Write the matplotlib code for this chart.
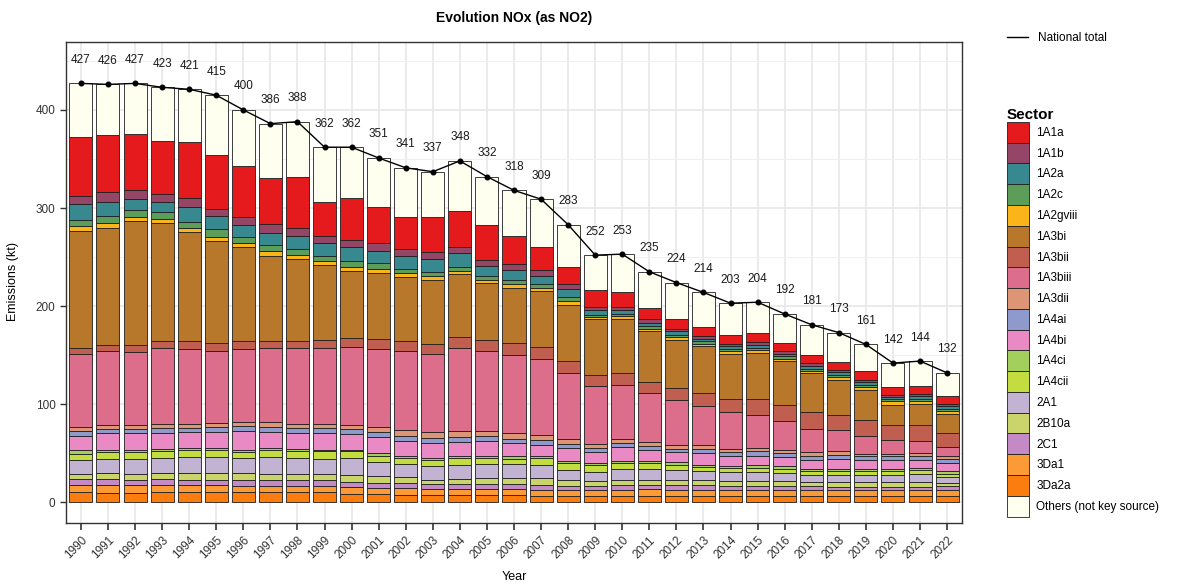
import numpy as np
import matplotlib
matplotlib.use("Agg")
import matplotlib.pyplot as plt
from matplotlib.patches import Patch
from matplotlib.lines import Line2D

plt.rcParams['font.family'] = ['Liberation Sans', 'DejaVu Sans']

years = list(range(1990, 2023))
national_total = [427, 426, 427, 423, 421, 415, 400, 386, 388, 362,
                  362, 351, 341, 337, 348, 332, 318, 309, 283, 252,
                  253, 235, 224, 214, 203, 204, 192, 181, 173, 161,
                  142, 144, 132]

# sector values (kt), bottom of the stack first
s_3Da2a = [10.2, 9.6, 9.6, 10.2, 10.2, 10.2, 10.2, 10.2, 10.2, 10.2,
           8.5, 8.5, 7.8, 7.8, 7.8, 7.8, 7.8, 6.8, 6.8, 6.1,
           6.8, 6.8, 6.1, 6.1, 6.1, 6.1, 6.1, 6.1, 6.1, 6.1,
           6.1, 6.1, 6.1]
s_3Da1 = [7.8, 8.5, 8.5, 7.8, 7.8, 7.8, 6.8, 6.8, 6.8, 6.8,
          7.1, 6.1, 6.8, 6.1, 6.1, 6.1, 6.1, 6.1, 6.1, 6.1,
          6.1, 6.8, 6.8, 6.8, 6.1, 6.1, 6.1, 6.1, 6.1, 6.1,
          6.1, 6.1, 6.1]
s_2C1 = [5.8, 6.1, 5.1, 6.1, 5.1, 5.1, 6.1, 5.4, 5.4, 6.1,
         5.1, 5.1, 5.1, 5.1, 5.1, 5.1, 5.1, 5.1, 4.1, 4.1,
         4.4, 4.4, 4.4, 4.4, 4.8, 4.8, 4.1, 4.1, 3.4, 3.4,
         3.4, 3.4, 4.8]
s_2B10a = [5.5, 5.7, 6.1, 5.8, 6.8, 6.8, 6.8, 6.8, 6.8, 6.1,
           7.5, 6.8, 6.1, 4.1, 4.8, 5.8, 5.8, 6.8, 5.4, 5.1,
           5.8, 5.1, 5.1, 5.1, 5.1, 4.4, 5.1, 4.1, 4.8, 4.8,
           4.8, 4.8, 2.7]
s_2A1 = [14.2, 14.3, 14.9, 15.3, 16.0, 16.3, 15.3, 17.0, 16.0, 14.9,
         17.0, 14.6, 13.6, 13.6, 14.6, 14.6, 14.3, 13.6, 10.9, 9.2,
         10.9, 10.9, 10.2, 9.2, 8.5, 9.2, 8.5, 7.8, 7.8, 7.8,
         7.8, 8.8, 6.1]
s_1A4cii = [6.1, 6.8, 6.8, 6.8, 7.1, 6.8, 5.8, 6.8, 6.8, 7.8,
            6.8, 6.4, 5.8, 6.1, 6.8, 5.8, 5.4, 6.8, 6.8, 7.1,
            6.1, 6.1, 5.8, 4.1, 4.4, 4.4, 4.1, 3.4, 3.4, 3.4,
            3.4, 3.4, 3.4]
s_1A4ci = [3.4, 2.7, 2.7, 2.4, 2.4, 2.4, 2.7, 2.4, 2.4, 1.7,
           1.7, 2.7, 2.4, 2.4, 2.4, 2.4, 2.4, 2.4, 2.4, 2.4,
           2.4, 2.4, 2.4, 2.7, 2.4, 2.7, 2.7, 2.4, 2.4, 2.4,
           2.4, 2.4, 2.4]
s_1A4bi = [14.9, 17.0, 17.0, 16.3, 16.0, 16.3, 18.7, 16.3, 16.3, 17.0,
           16.0, 16.0, 14.6, 15.3, 13.6, 14.6, 13.6, 11.2, 12.9, 10.9,
           13.9, 10.5, 10.2, 11.9, 9.5, 9.8, 9.5, 9.5, 10.2, 8.8,
           8.8, 8.5, 8.5]
s_1A4ai = [4.5, 4.0, 4.0, 5.1, 4.4, 5.1, 5.1, 5.1, 5.1, 5.1,
           5.1, 5.1, 5.8, 5.1, 5.4, 5.1, 4.4, 5.1, 4.1, 4.4,
           4.1, 4.1, 3.4, 4.1, 4.1, 4.4, 4.1, 4.1, 4.4, 4.1,
           4.1, 4.1, 4.1]
s_1A3dii = [4.0, 4.4, 4.4, 4.4, 4.4, 4.1, 4.8, 4.8, 4.4, 4.4,
            4.4, 5.1, 6.1, 6.1, 6.4, 5.8, 5.8, 5.1, 5.1, 4.1,
            4.1, 4.4, 4.4, 3.7, 3.4, 3.4, 3.4, 3.4, 3.4, 2.7,
            2.7, 2.7, 2.7]
s_1A3biii = [75.0, 74.7, 73.7, 76.7, 76.0, 73.6, 73.9, 75.3, 76.7, 77.1,
             79.0, 79.8, 79.7, 79.4, 84.2, 81.4, 79.1, 77.4, 67.2, 58.7,
             55.3, 49.9, 45.1, 40.4, 37.3, 34.0, 29.5, 23.7, 21.3, 18.3,
             14.2, 11.8, 9.5]
s_1A3bii = [5.8, 6.1, 7.1, 7.1, 7.8, 7.8, 7.8, 7.8, 7.8, 8.5,
            9.2, 10.2, 10.2, 10.5, 10.9, 11.2, 12.5, 11.8, 11.8, 11.9,
            11.9, 10.9, 12.5, 12.9, 13.6, 16.0, 15.6, 17.0, 16.0, 16.3,
            14.6, 16.3, 14.2]
s_1A3bi = [119.8, 119.5, 127.3, 120.5, 111.3, 104.2, 96.1, 86.9, 83.1, 76.4,
           68.9, 67.2, 66.2, 65.2, 64.5, 57.7, 56.7, 57.4, 57.7, 56.6,
           54.9, 51.9, 49.3, 47.5, 46.1, 46.8, 44.8, 40.0, 35.6, 30.6,
           21.1, 21.8, 19.7]
s_1A2gviii = [4.8, 5.1, 4.1, 4.1, 4.1, 3.7, 4.0, 4.7, 4.5, 4.0,
              4.0, 4.1, 3.4, 4.1, 3.7, 3.4, 3.7, 2.7, 4.1, 2.1,
              2.8, 2.4, 2.7, 2.7, 2.4, 2.7, 2.7, 2.4, 2.8, 2.7,
              3.4, 3.0, 2.4]
s_1A2c = [6.1, 7.5, 6.8, 7.8, 6.1, 8.2, 6.1, 6.1, 5.7, 5.1,
          5.8, 6.1, 4.1, 3.7, 4.0, 4.1, 4.1, 4.1, 3.8, 2.4,
          2.7, 3.4, 2.4, 2.4, 2.4, 2.4, 2.4, 2.0, 2.3, 2.3,
          2.3, 2.4, 2.4]
s_1A2a = [15.9, 14.5, 10.8, 9.5, 15.3, 13.9, 12.6, 12.6, 13.6, 12.9,
          14.6, 12.9, 13.9, 13.6, 13.6, 10.5, 10.2, 8.5, 8.1, 4.4,
          4.1, 2.7, 3.4, 2.7, 3.4, 3.4, 2.7, 3.1, 2.7, 2.7,
          2.1, 2.4, 2.7]
s_1A1b = [8.9, 9.5, 9.5, 8.1, 9.2, 6.8, 7.8, 8.5, 7.8, 7.5,
          6.8, 7.4, 6.4, 6.8, 6.8, 5.8, 5.7, 6.1, 5.1, 3.4,
          3.3, 4.0, 2.3, 2.4, 2.0, 2.4, 2.4, 2.7, 2.4, 2.4,
          2.4, 2.7, 2.4]
s_1A1a = [59.4, 58.8, 57.1, 54.7, 57.0, 55.0, 52.3, 47.5, 51.9, 35.0,
          42.5, 37.4, 32.6, 35.6, 36.4, 35.6, 28.9, 23.7, 17.3, 17.6,
          15.3, 11.3, 10.5, 9.5, 8.5, 9.4, 8.5, 8.5, 7.8, 8.5,
          7.8, 7.5, 7.8]
s_others = [54.9, 51.2, 51.5, 54.3, 54.0, 60.9, 57.1, 55.0, 56.7, 55.4,
            52.0, 49.5, 50.4, 46.4, 50.9, 49.2, 46.4, 48.3, 43.3, 35.4,
            38.1, 37.0, 37.0, 35.4, 32.9, 31.6, 29.7, 30.6, 30.1, 27.6,
            24.5, 25.8, 24.0]

# stacking order (bottom -> top) with colours
stack = [
    ('3Da2a', s_3Da2a, '#fb7d10'),
    ('3Da1', s_3Da1, '#fc9a36'),
    ('2C1', s_2C1, '#c38ac6'),
    ('2B10a', s_2B10a, '#c9d46b'),
    ('2A1', s_2A1, '#c3b3d3'),
    ('1A4cii', s_1A4cii, '#c3dc40'),
    ('1A4ci', s_1A4ci, '#a3cf5c'),
    ('1A4bi', s_1A4bi, '#e98ac5'),
    ('1A4ai', s_1A4ai, '#8e9acb'),
    ('1A3dii', s_1A3dii, '#dc9676'),
    ('1A3biii', s_1A3biii, '#dc6e8c'),
    ('1A3bii', s_1A3bii, '#c05f4f'),
    ('1A3bi', s_1A3bi, '#b8782c'),
    ('1A2gviii', s_1A2gviii, '#fbb41a'),
    ('1A2c', s_1A2c, '#5c9d5a'),
    ('1A2a', s_1A2a, '#37898f'),
    ('1A1b', s_1A1b, '#954566'),
    ('1A1a', s_1A1a, '#e41a1c'),
    ('Others (not key source)', s_others, '#fffff0'),
]

fig = plt.figure(figsize=(11.82, 5.87), dpi=100)
ax = fig.add_axes([66 / 1182, 1 - 523 / 587, 896 / 1182, 481.3 / 587])

x = np.arange(len(years))
bottom = np.zeros(len(years))
for name, vals, col in stack:
    vals = np.array(vals)
    ax.bar(x, vals, bottom=bottom, width=0.85, color=col,
           edgecolor='#1e1e1e', linewidth=0.6, zorder=2)
    bottom += vals

ax.plot(x, national_total, color='black', lw=1.0, marker='o', ms=3.3, zorder=3)
for xi, t in zip(x, national_total):
    ax.text(xi, t + 24, str(t), ha='center', va='center', fontsize=8.5,
            color='#1a1a1a', zorder=4)

ax.set_xlim(-0.55, len(years) - 0.45)
ax.set_ylim(-21, 469.5)
ax.set_yticks([0, 100, 200, 300, 400])
ax.set_yticks([50, 150, 250, 350, 450], minor=True)
ax.set_xticks(x)
ax.set_xticklabels([str(y) for y in years], rotation=45, ha='right',
                   rotation_mode='anchor', fontsize=8.5, color='#333333')
ax.tick_params(axis='y', labelsize=8.5, labelcolor='#333333', length=4,
               width=1, color='#333333')
ax.tick_params(axis='x', length=5, width=1.2, color='#333333', pad=3)
ax.tick_params(axis='y', which='minor', length=0)
ax.grid(True, which='major', color='#e8e8e8', lw=1.2, zorder=0)
ax.grid(True, which='minor', axis='y', color='#f0f0f0', lw=0.7, zorder=0)
ax.set_axisbelow(True)
for sp in ax.spines.values():
    sp.set_color('#333333')
    sp.set_linewidth(1.0)

fig.text(514 / 1182, 1 - 18 / 587, 'Evolution NOx (as NO2)', ha='center',
         va='center', fontsize=10, fontweight='bold')
fig.text(13 / 1182, 1 - 282 / 587, 'Emissions (kt)', rotation=90,
         ha='center', va='center', fontsize=9)
fig.text(514 / 1182, 1 - 577 / 587, 'Year', ha='center', va='center',
         fontsize=9)

# legends
leg1 = fig.legend(handles=[Line2D([0], [0], color='black', lw=1.0)],
                  labels=['National total'], loc='upper left',
                  bbox_to_anchor=(1001 / 1182, 1 - 26 / 587), frameon=False,
                  fontsize=8.5, handlelength=1.8, borderpad=0, handletextpad=0.8)
handles = [Patch(facecolor=col, edgecolor='#1e1e1e', linewidth=0.6)
           for name, vals, col in stack[::-1]]
# legend lists sectors alphabetically with "Others" last
order = list(range(1, len(stack))) + [0]
leg_h = [handles[i] for i in order]
leg_l = [stack[::-1][i][0] for i in order]
leg2 = fig.legend(handles=leg_h, labels=leg_l, loc='upper left',
                  bbox_to_anchor=(1001 / 1182, 1 - 102 / 587), frameon=False,
                  fontsize=8.5, title='Sector', handlelength=1.9,
                  handleheight=2.33, labelspacing=0.0, borderpad=0,
                  handletextpad=0.6, alignment='left',
                  title_fontproperties={'weight': 'bold', 'size': 11})

fig.savefig('out.png', dpi=100)
